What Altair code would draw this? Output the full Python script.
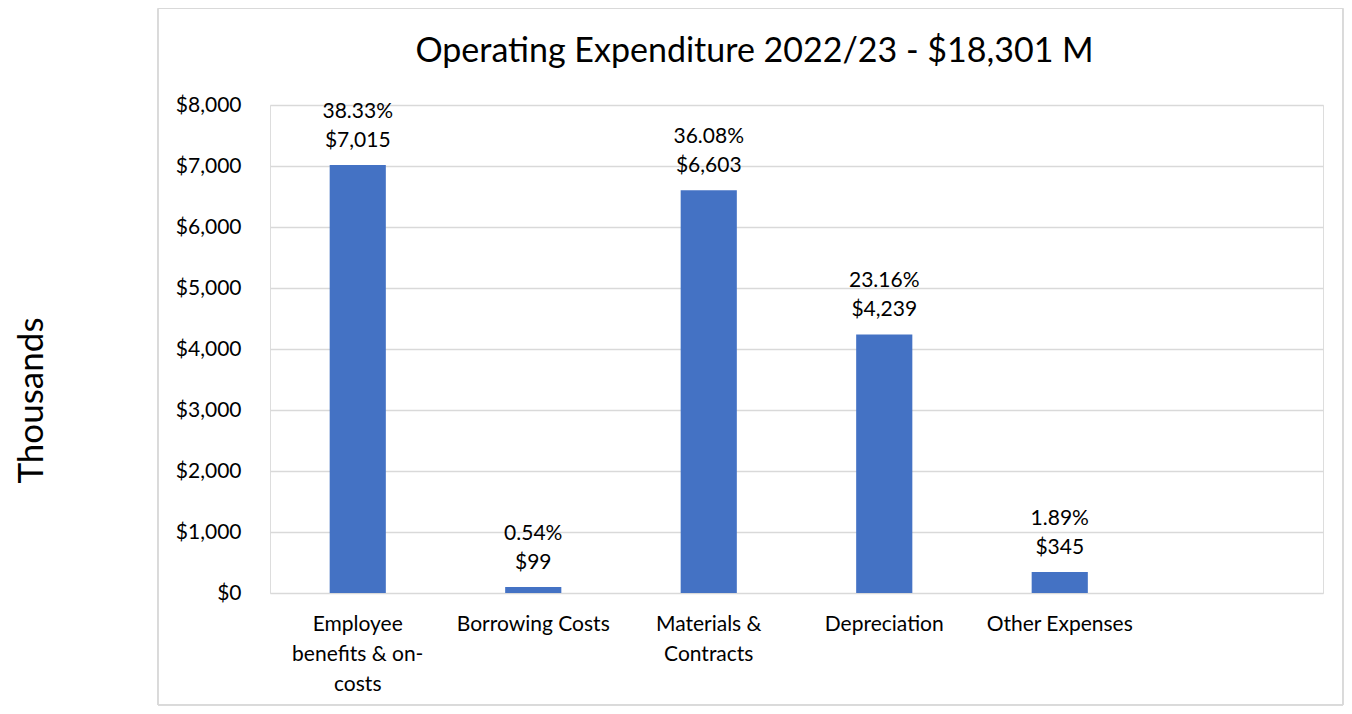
import altair as alt
import pandas as pd

categories = ["Employee benefits & on-costs", "Borrowing Costs", "Materials & Contracts",
              "Depreciation", "Other Expenses"]
wrapped = ["Employee\nbenefits & on-\ncosts", "Borrowing Costs", "Materials &\nContracts",
           "Depreciation", "Other Expenses"]
values = [7015, 99, 6603, 4239, 345]
percents = ["38.33%", "0.54%", "36.08%", "23.16%", "1.89%"]
domain_slots = wrapped + [""]

df = pd.DataFrame({
    "cat": wrapped,
    "value": values,
    "label": [f"{p}\n${v:,}" for p, v in zip(percents, values)],
})

FONT = "Lato"
W, H = 1053, 488

x = alt.X("cat:N", sort=domain_slots,
          scale=alt.Scale(domain=domain_slots, paddingInner=0.68, paddingOuter=0.34),
          axis=alt.Axis(title=None, labelAngle=0, ticks=False, domain=False,
                        labelFontSize=21, labelFont=FONT, labelColor="#000000",
                        labelPadding=20, labelLineHeight=30,
                        labelExpr="split(datum.label, '\\n')"))
y = alt.Y("value:Q",
          scale=alt.Scale(domain=[0, 8000], nice=False),
          axis=alt.Axis(title="Thousands", values=[0, 1000, 2000, 3000, 4000, 5000, 6000, 7000, 8000],
                        format="$,.0f", ticks=False, domain=False,
                        labelFontSize=21, labelFont=FONT, labelColor="#000000", labelPadding=29,
                        gridColor="#d9d9d9", gridWidth=1.5,
                        titleFont=FONT, titleFontSize=35, titleFontWeight="normal",
                        titleColor="#000000", titleX=-228, titleY=295,
                        titleBaseline="alphabetic", titleAngle=270))

bars = alt.Chart(df).mark_bar(color="#4472C4").encode(x=x, y=y)

labels = alt.Chart(df).mark_text(
    baseline="bottom", align="center", dy=-43, fontSize=21, font=FONT,
    color="#000000", lineBreak="\n", lineHeight=29
).encode(x=alt.X("cat:N", sort=domain_slots), y="value:Q", text="label:N")

frame = alt.Chart(df).mark_rect(
    fill=None, stroke="#d9d9d9", strokeWidth=1
).encode(x=alt.value(-112), x2=alt.value(1073), y=alt.value(-96.5), y2=alt.value(600))

chart = alt.layer(frame, bars, labels).properties(
    width=W, height=H,
    autosize=alt.AutoSizeParams(type="none"),
    padding={"left": 262, "top": 97, "right": 21, "bottom": 113},
    title=alt.Title("Operating Expenditure 2022/23 - $18,301 M", font=FONT, fontSize=34,
                    fontWeight="normal", color="#000000", anchor="middle", dx=-42,
                    frame="group", baseline="alphabetic", offset=0, dy=88),
).configure_view(stroke=None).configure(background="white")

chart.save("out.html", embed_options={"renderer": "svg", "actions": False})
